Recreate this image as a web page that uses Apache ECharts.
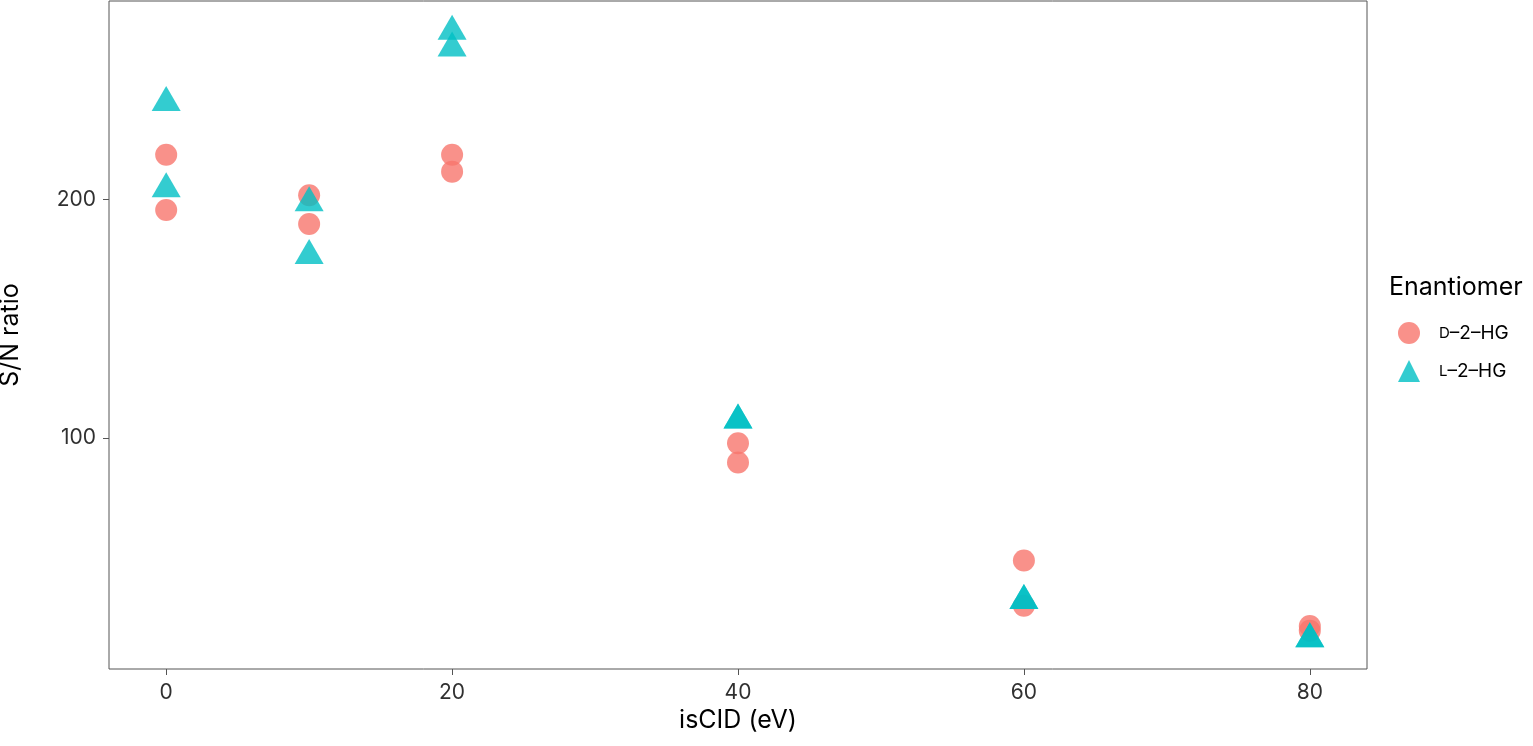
<!DOCTYPE html>
<html>
<head>
<meta charset="UTF-8">
<title>S/N ratio vs isCID</title>
<script src="https://cdn.jsdelivr.net/npm/echarts@6/dist/echarts.min.js"></script>
<style>
  html, body { margin: 0; padding: 0; background: #fff; }
  #main { width: 1533px; height: 746px; }
</style>
</head>
<body>
<div id="main"></div>
<script>
// data
var dX = [0, 0, 10, 10, 20, 20, 40, 40, 60, 60, 80, 80];
var dY = [218.7, 195.5, 201.7, 189.7, 218.7, 211.6, 97.8, 89.7, 48.7, 29.7, 21.2, 19.2];
var lX = [0, 0, 10, 10, 20, 20, 40, 40, 60, 60, 80, 80];
var lY = [240.6, 204.4, 198.6, 176.5, 270.4, 263.4, 107.5, 107.5, 31.9, 31.9, 15.9, 15.9];
var xTicks = [0, 20, 40, 60, 80];
var yTicks = [100, 200];

function pairs(xs, ys) {
    return xs.map(function (x, i) { return [x, ys[i]]; });
}

var font = 'Inter';
var myChart = echarts.init(document.getElementById('main'));

var option = {
    animation: false,
    textStyle: { fontFamily: font },
    title: {
        text: 'Enantiomer',
        left: 1389,
        top: 275,
        padding: 0,
        textStyle: { fontFamily: font, fontSize: 25, fontWeight: 'normal', color: '#000' }
    },
    legend: {
        orient: 'vertical',
        left: 1398,
        top: 322,
        padding: 0,
        itemWidth: 22,
        itemHeight: 22,
        itemGap: 16,
        data: ['D-2-HG', 'L-2-HG'],
        formatter: function (n) {
            return '{sc|' + n[0] + '}{t|–2–HG}';
        },
        textStyle: {
            color: '#000',
            rich: {
                sc: { fontFamily: font, fontSize: 15, color: '#000', padding: [0, 0, 0, 14] },
                t: { fontFamily: font, fontSize: 19, color: '#000' }
            }
        }
    },
    grid: {
        left: 109, right: 166, top: 1, bottom: 77,
        containLabel: false,
        outerBoundsMode: 'none',
        show: true, borderColor: '#555', borderWidth: 1
    },
    xAxis: {
        type: 'value',
        min: -4, max: 84,
        name: 'isCID (eV)',
        nameLocation: 'middle',
        nameGap: 37,
        nameTextStyle: { fontFamily: font, fontSize: 25, color: '#000' },
        axisLine: { show: false, onZero: false },
        splitLine: { show: false },
        axisTick: { show: true, length: 6, lineStyle: { color: '#555' }, customValues: xTicks },
        axisLabel: { fontFamily: font, fontSize: 21, color: '#303030', margin: 13, customValues: xTicks }
    },
    yAxis: {
        type: 'value',
        min: 3.2, max: 283.1,
        name: 'S/N ratio',
        nameLocation: 'middle',
        nameGap: 86,
        nameTextStyle: { fontFamily: font, fontSize: 25, color: '#000' },
        axisLine: { show: false, onZero: false },
        splitLine: { show: false },
        axisTick: { show: true, length: 6, lineStyle: { color: '#555' }, customValues: yTicks },
        axisLabel: { fontFamily: font, fontSize: 21, color: '#303030', margin: 13, customValues: yTicks }
    },
    series: [
        {
            name: 'D-2-HG',
            type: 'scatter',
            symbol: 'circle',
            symbolSize: 22,
            itemStyle: { color: '#F8766D', opacity: 0.8 },
            data: pairs(dX, dY)
        },
        {
            name: 'L-2-HG',
            type: 'scatter',
            symbol: 'triangle',
            symbolSize: [29, 25],
            symbolOffset: [0, -4],
            itemStyle: { color: '#00BFC4', opacity: 0.8 },
            data: pairs(lX, lY)
        }
    ]
};
myChart.setOption(option);
</script>
</body>
</html>
